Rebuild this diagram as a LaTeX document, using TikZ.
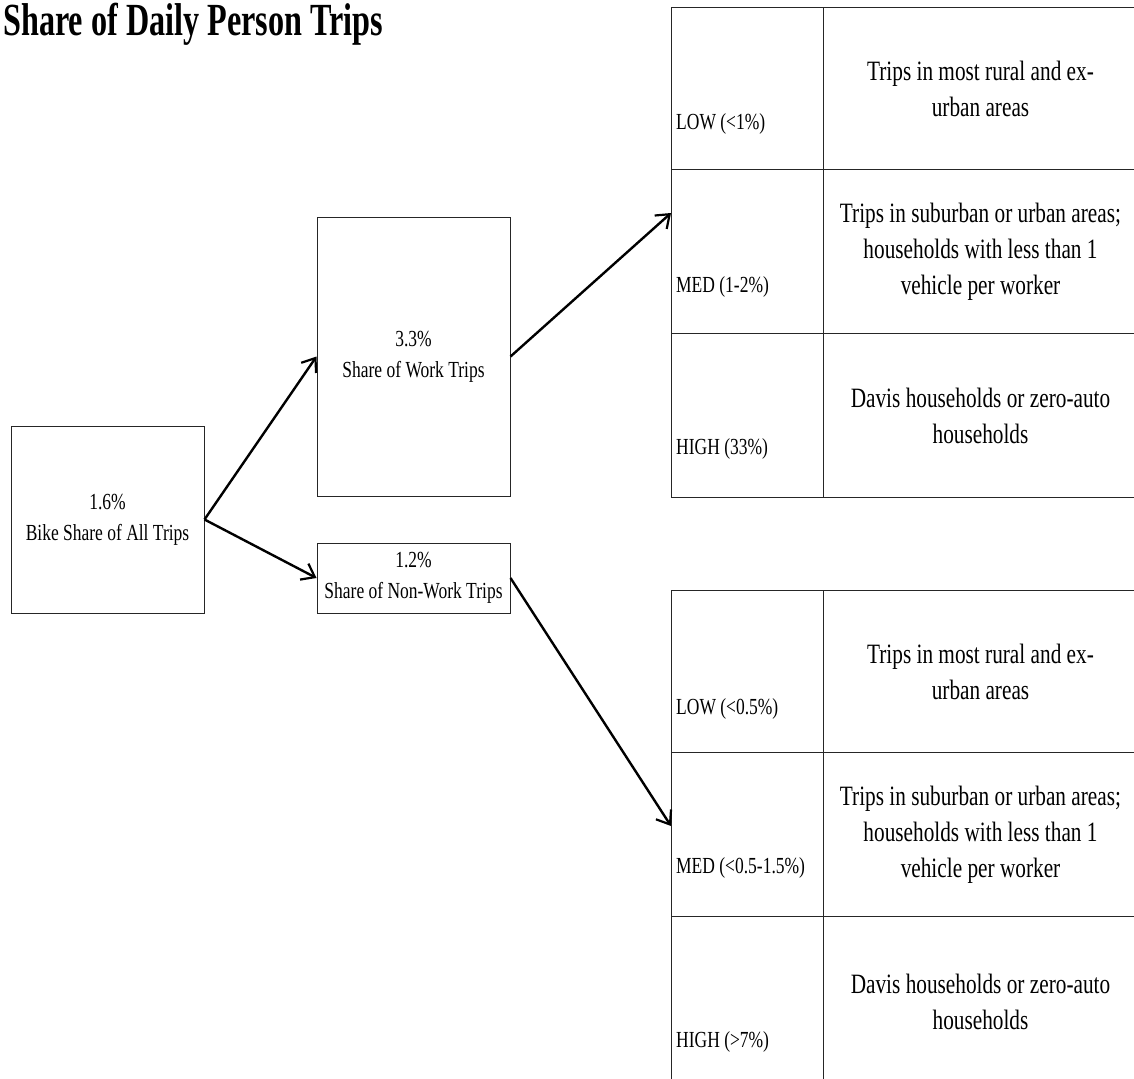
\documentclass[tikz,border=0pt]{standalone}
\usepackage{fontspec}
\setmainfont{Liberation Serif}[FakeStretch=0.76]
\newfontfamily\titlefont{Liberation Serif}[FakeStretch=0.7]
\usetikzlibrary{arrows.meta}

\begin{document}
\begin{tikzpicture}[x=1pt,y=-1pt,
  every node/.style={inner sep=0pt},
  txt/.style={font=\fontsize{23}{31}\selectfont},
  box/.style={txt, draw=black!85, line width=1pt, align=center},
  cell/.style={draw=black!85, line width=1pt, anchor=north west},
  lvlcell/.style={cell, minimum width=152pt},
  desccell/.style={cell, minimum width=314pt, align=center,
    font=\fontsize{28}{36}\selectfont},
  lvl/.style={txt, anchor=base west},
  link/.style={line width=2.4pt,
    -{Straight Barb[length=12pt,width=18pt,line width=2.2pt]}}
]
\useasboundingbox (0,0) rectangle (1134,1078);
\clip (0,0) rectangle (1134,1078);

% heading
\node[anchor=base west, font=\titlefont\bfseries\fontsize{46}{50}\selectfont]
  (title) at (3,36) {Share of Daily Person Trips};

% share boxes
\node[box, minimum width=193pt, minimum height=187pt] (all) at (107.5,519.5)
  {1.6\%\\Bike Share of All Trips};
\node[box, minimum width=193pt, minimum height=279pt] (work) at (413.5,356.5)
  {3.3\%\\Share of Work Trips};
\node[box, minimum width=193pt, minimum height=70pt] (nonwork) at (413.5,578)
  {1.2\%\\Share of Non-Work Trips};

% work trips table
\node[lvlcell, minimum height=162pt] (w-low-l)  at (671,7)   {};
\node[lvlcell, minimum height=164pt] (w-med-l)  at (671,169) {};
\node[lvlcell, minimum height=164pt] (w-high-l) at (671,333) {};
\node[desccell, minimum height=162pt] (w-low-d)  at (823,7)
  {Trips in most rural and ex-\\urban areas};
\node[desccell, minimum height=164pt] (w-med-d)  at (823,169)
  {Trips in suburban or urban areas;\\households with less than 1\\vehicle per worker};
\node[desccell, minimum height=164pt] (w-high-d) at (823,333)
  {Davis households or zero-auto\\households};
\node[lvl] (w-low-t)  at (676,130) {LOW (<1\%)};
\node[lvl] (w-med-t)  at (676,292) {MED (1-2\%)};
\node[lvl] (w-high-t) at (676,454) {HIGH (33\%)};

% non-work trips table
\node[lvlcell, minimum height=162pt] (n-low-l)  at (671,590) {};
\node[lvlcell, minimum height=164pt] (n-med-l)  at (671,752) {};
\node[lvlcell, minimum height=170pt] (n-high-l) at (671,916) {};
\node[desccell, minimum height=162pt] (n-low-d)  at (823,590)
  {Trips in most rural and ex-\\urban areas};
\node[desccell, minimum height=164pt] (n-med-d)  at (823,752)
  {Trips in suburban or urban areas;\\households with less than 1\\vehicle per worker};
\node[desccell, minimum height=170pt] (n-high-d) at (823,916)
  {Davis households or zero-auto\\households};
\node[lvl] (n-low-t)  at (676,714)  {LOW (<0.5\%)};
\node[lvl] (n-med-t)  at (676,873)  {MED (<0.5-1.5\%)};
\node[lvl] (n-high-t) at (676,1047) {HIGH (>7\%)};

% entry points on the tables' left edges
\coordinate (w-in) at ([yshift=-44pt]w-med-l.north west);
\coordinate (n-in) at ([yshift=-74pt]n-med-l.north west);

% connectors
\draw[link] (all.east) -- (work.west);
\draw[link] (all.east) -- (nonwork.west);
\draw[link] (work.east) -- (w-in);
\draw[link] (nonwork.east) -- (n-in);
\end{tikzpicture}
\end{document}
